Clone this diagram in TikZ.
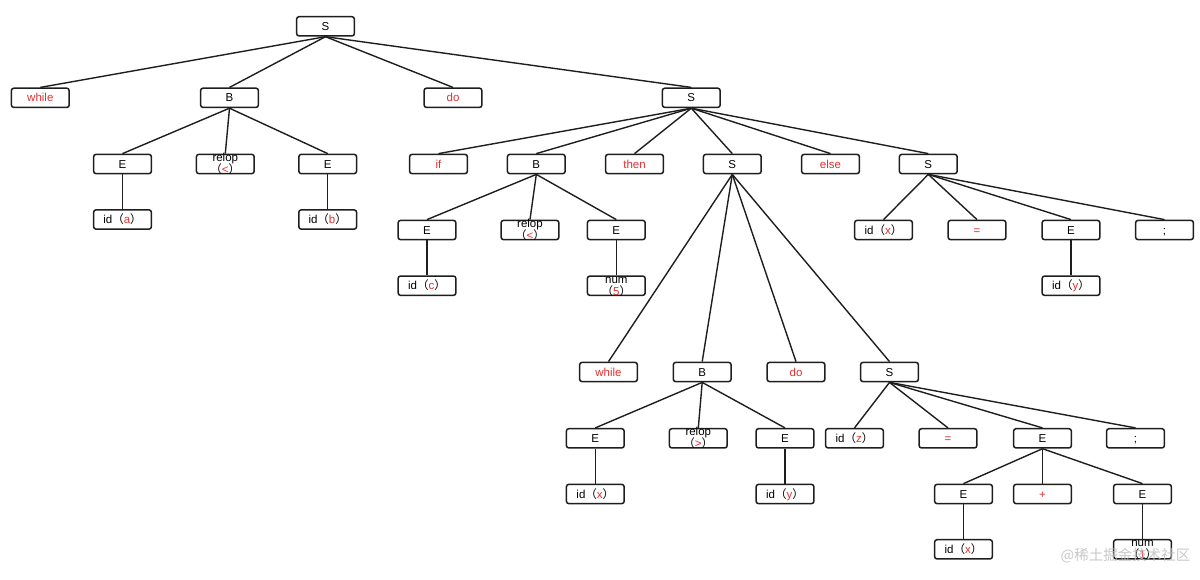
\documentclass[tikz,border=0pt]{standalone}
\usepackage{fontspec}
\setmainfont{Liberation Sans}
\newfontfamily\cjk{Noto Sans CJK SC}
\definecolor{tred}{RGB}{228,48,48}
\definecolor{tline}{RGB}{30,30,30}
\newcommand\rd[1]{\textcolor{tred}{#1}}
\newcommand\pr[1]{{\cjk （}\rd{#1}{\cjk ）}}
\newcommand\twol[2]{\raisebox{-5.5pt}[0pt][0pt]{\vbox{\baselineskip=12pt\lineskiplimit=-100pt\halign{\hfil##\hfil\cr#1\cr#2\cr}}}}
\begin{document}
\begin{tikzpicture}[x=1pt,y=-1pt,
  bx/.style={draw=tline, line width=1.5pt, rounded corners=2.5pt, fill=white,
    minimum width=57.8pt, minimum height=19.3pt, inner sep=0pt,
    text height=8pt, text depth=0pt, font=\fontsize{11.5}{13}\selectfont},
  rbx/.style={bx, text=tred},
  ln/.style={draw=tline, line width=1.4pt}]
\useasboundingbox (0,0) rectangle (1200,579);
% level 0
\node[bx] (s0) at (325.5,26.3) {S};
% level 1
\node[rbx] (w1) at (40.3,97.8) {while};
\node[bx] (b1) at (229.5,97.8) {B};
\node[rbx] (do1) at (453,97.8) {do};
\node[bx] (s1) at (691.3,97.8) {S};
% level 2
\node[bx] (e1) at (122.5,164) {E};
\node[bx] (r1) at (225.3,164) {\twol{relop}{\pr{<}}};
\node[bx] (e2) at (327.7,164) {E};
\node[rbx] (if) at (438.5,164) {if};
\node[bx] (b2) at (536.3,164) {B};
\node[rbx] (then) at (634.5,164) {then};
\node[bx] (s2) at (732.3,164) {S};
\node[rbx] (else) at (830.5,164) {else};
\node[bx] (s3) at (928.3,164) {S};
% level 3
\node[bx] (ida) at (122.5,219.5) {id\pr{a}};
\node[bx] (idb) at (327.7,219.5) {id\pr{b}};
\node[bx] (e3) at (427,230) {E};
\node[bx] (r2) at (530,230) {\twol{relop}{\pr{<}}};
\node[bx] (e4) at (616.3,230) {E};
\node[bx] (idx1) at (883.5,230) {id\pr{x}};
\node[rbx] (eq1) at (977,230) {=};
\node[bx] (e5) at (1071,230) {E};
\node[bx] (semi1) at (1164.5,230) {;};
% level 4
\node[bx] (idc) at (427,285.7) {id\pr{c}};
\node[bx] (num5) at (616.3,285.7) {\twol{num}{\pr{5}}};
\node[bx] (idy1) at (1071,285.7) {id\pr{y}};
% level 5
\node[rbx] (w2) at (608.5,372) {while};
\node[bx] (b3) at (702.2,372) {B};
\node[rbx] (do2) at (796,372) {do};
\node[bx] (s4) at (889.5,372) {S};
% level 6
\node[bx] (e6) at (595.3,438.3) {E};
\node[bx] (r3) at (698.3,438.3) {\twol{relop}{\pr{>}}};
\node[bx] (e7) at (785,438.3) {E};
\node[bx] (idz) at (854.5,438.3) {id\pr{z}};
\node[rbx] (eq2) at (948,438.3) {=};
\node[bx] (e8) at (1042.5,438.3) {E};
\node[bx] (semi2) at (1135.5,438.3) {;};
% level 7
\node[bx] (idx2) at (595.3,494) {id\pr{x}};
\node[bx] (idy2) at (785,494) {id\pr{y}};
\node[bx] (e9) at (963.5,494) {E};
\node[rbx] (plus) at (1042.5,494) {+};
\node[bx] (e10) at (1142.5,494) {E};
% level 8
\node[bx] (idx3) at (963.5,549.3) {id\pr{x}};
\node[bx] (num1) at (1142.5,549.3) {\twol{num}{\pr{1}}};
% connectors
\foreach \p/\c in {s0/w1,s0/b1,s0/do1,s0/s1,
  b1/e1,b1/r1,b1/e2,e1/ida,e2/idb,
  s1/if,s1/b2,s1/then,s1/s2,s1/else,s1/s3,
  b2/e3,b2/r2,b2/e4,e3/idc,e4/num5,
  s3/idx1,s3/eq1,s3/e5,s3/semi1,e5/idy1,
  s2/w2,s2/b3,s2/do2,s2/s4,
  b3/e6,b3/r3,b3/e7,e6/idx2,e7/idy2,
  s4/idz,s4/eq2,s4/e8,s4/semi2,
  e8/e9,e8/plus,e8/e10,e9/idx3,e10/num1}
  \draw[ln] (\p.south) -- (\c.north);
% watermark
\node[text=gray!50, opacity=0.85, inner sep=0pt, font=\cjk\fontsize{14.5}{16}\selectfont] (wm) at (1125.5,556) {@稀土掘金技术社区};
\end{tikzpicture}
\end{document}
